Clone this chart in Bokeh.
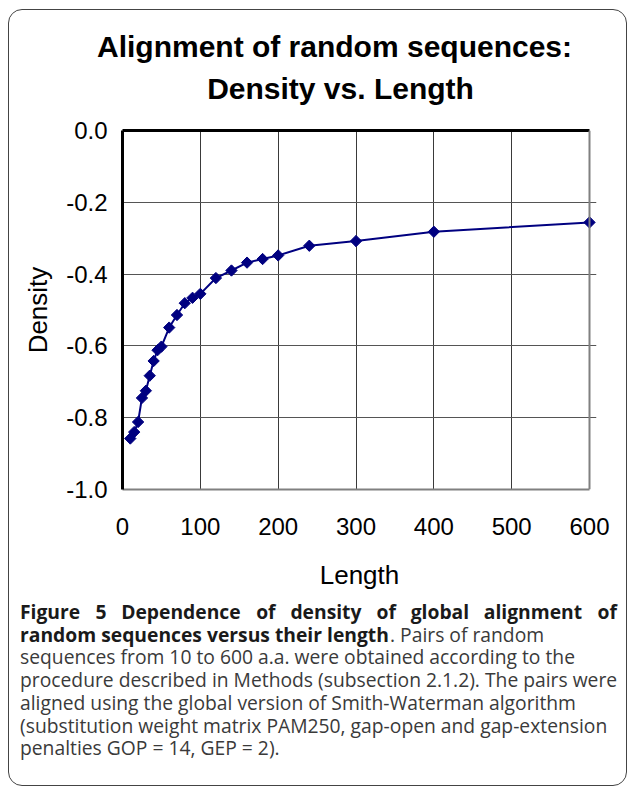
import numpy as np
from bokeh.plotting import figure
from bokeh.models import Range1d, LinearAxis, FixedTicker, Span
from bokeh.layouts import column
from bokeh.embed import file_html
from bokeh.resources import INLINE
from bokeh.core.properties import value

# ---------------- data ----------------
chart_title = ["Alignment of random sequences:", "Density vs. Length"]
lengths = [10, 15, 20, 25, 30, 35, 40, 45, 50, 60, 70, 80, 90, 100,
           120, 140, 160, 180, 200, 240, 300, 400, 600]
density = [-0.858, -0.840, -0.812, -0.745, -0.725, -0.683, -0.642, -0.612,
           -0.602, -0.549, -0.514, -0.481, -0.466, -0.455, -0.411, -0.390,
           -0.368, -0.358, -0.348, -0.321, -0.308, -0.282, -0.256]
x_ticks = [0, 100, 200, 300, 400, 500, 600]
y_ticks = [0.0, -0.2, -0.4, -0.6, -0.8, -1.0]
y_tick_labels = ["0.0", "-0.2", "-0.4", "-0.6", "-0.8", "-1.0"]
x_title = "Length"
y_title = "Density"
caption_bold_1 = "Figure 5 Dependence of density of global alignment of"
caption_bold_2 = "random sequences versus their length"
caption_rest_2 = ". Pairs of random"
caption_lines = [
    "sequences from 10 to 600 a.a. were obtained according to the",
    "procedure described in Methods (subsection 2.1.2). The pairs were",
    "aligned using the global version of Smith-Waterman algorithm",
    "(substitution weight matrix PAM250, gap-open and gap-extension",
    "penalties GOP = 14, GEP = 2).",
]

# ---------------- layout constants ----------------
W = 617
ARIAL = "Liberation Sans"
CAPF = "Open Sans"
NAVY = "#000080"
CAP_SIZE = 19.3


def blank(h):
    f = figure(width=W, height=h, x_range=Range1d(0, W), y_range=Range1d(h, 0),
               x_axis_type=None, y_axis_type=None, output_backend="svg",
               toolbar_location=None, min_border=0, title=None, frame_align=False)
    f.outline_line_color = None
    f.background_fill_color = None
    f.border_fill_color = None
    return f


# ---------------- title ----------------
TH = 100
tf = blank(TH)
tf.text(x=[325, 331], y=[36, 77.5], text=chart_title,
        text_font=value(ARIAL), text_font_size="30px", text_font_style="bold",
        text_align="center", text_baseline="alphabetic", text_color="#000000")

# ---------------- chart ----------------
frame_w = 474
plot_w = 467
x_end = x_ticks[-1] * frame_w / plot_w
CHH = 487
p = figure(width=W, height=CHH, x_range=Range1d(0, x_end),
           y_range=Range1d(y_ticks[-1], y_ticks[0]),
           output_backend="svg", toolbar_location=None, title=None, frame_align=False,
           min_border_left=113, min_border_right=W - 113 - frame_w,
           min_border_top=20, min_border_bottom=CHH - 20 - 359)
p.outline_line_color = None
p.background_fill_color = None
p.border_fill_color = None

p.xaxis.ticker = FixedTicker(ticks=x_ticks)
p.yaxis.ticker = FixedTicker(ticks=y_ticks)
p.yaxis.major_label_overrides = {t: l for t, l in zip(y_ticks, y_tick_labels)}
p.xaxis.bounds = (x_ticks[0], x_ticks[-1])

for ax in (p.xaxis, p.yaxis):
    ax.major_tick_line_color = None
    ax.minor_tick_line_color = None
    ax.major_tick_out = 0
    ax.major_tick_in = 0
    ax.minor_tick_out = 0
    ax.minor_tick_in = 0
    ax.major_label_text_font = ARIAL
    ax.major_label_text_font_size = "24px"
    ax.major_label_text_color = "#000000"
    ax.axis_label_text_font = ARIAL
    ax.axis_label_text_font_size = "26px"
    ax.axis_label_text_font_style = "normal"
    ax.axis_label_text_color = "#000000"

p.xaxis.axis_label = x_title
p.yaxis.axis_label = y_title
p.yaxis.axis_line_width = 3
p.yaxis.axis_line_color = "#000000"
p.yaxis.major_label_standoff = 15
p.yaxis.axis_label_standoff = 10
p.xaxis.axis_line_width = 2
p.xaxis.axis_line_color = "#808080"
p.xaxis.major_label_standoff = 28
p.xaxis.axis_label_standoff = 22

top = LinearAxis(ticker=FixedTicker(ticks=[]), bounds=(x_ticks[0], x_ticks[-1]),
                 axis_line_width=3, axis_line_color="#000000",
                 major_tick_line_color=None, minor_tick_line_color=None,
                 major_tick_out=0, major_tick_in=0)
p.add_layout(top, "above")
p.add_layout(Span(location=x_ticks[-1], dimension="height", line_color="#808080", line_width=2))

p.xgrid.ticker = FixedTicker(ticks=x_ticks[1:-1])
p.xgrid.grid_line_color = "#3a3a3a"
p.xgrid.grid_line_width = 1
p.ygrid.ticker = FixedTicker(ticks=y_ticks[1:-1])
p.ygrid.grid_line_color = "#555555"
p.ygrid.grid_line_width = 1

p.line(lengths, density, line_color=NAVY, line_width=2)
p.scatter(lengths, density, marker="square", angle=np.pi / 4, size=8,
          fill_color=NAVY, line_color=NAVY)

# ---------------- caption ----------------
CH = 775 - TH - CHH
cf = blank(CH)
base = 14
step = 22.7
left = 10.5
right = 607.5

# approximate Open Sans Bold advance widths (em) to justify the first line
BOLD_W = {" ": 0.26, "a": 0.604, "b": 0.635, "c": 0.522, "d": 0.635, "e": 0.596,
          "f": 0.391, "g": 0.557, "h": 0.663, "i": 0.306, "l": 0.306, "m": 1.007,
          "n": 0.663, "o": 0.623, "p": 0.635, "r": 0.455, "s": 0.506, "t": 0.427,
          "u": 0.663, "v": 0.57, "y": 0.57, "F": 0.575, "D": 0.737, "5": 0.572}
words = caption_bold_1.split(" ")
ww = [sum(BOLD_W.get(c, 0.6) for c in w) * CAP_SIZE for w in words]
gap = (right - left - sum(ww)) / (len(words) - 1)
wx = []
cur = left
for w in ww:
    wx.append(cur)
    cur += w + gap
cf.text(x=wx[:-1], y=[base] * (len(words) - 1), text=words[:-1],
        text_font=value(CAPF), text_font_size=f"{CAP_SIZE}px", text_font_style="bold",
        text_align="left", text_baseline="alphabetic", text_color="#1a1a1a")
cf.text(x=[right], y=[base], text=words[-1:],
        text_font=value(CAPF), text_font_size=f"{CAP_SIZE}px", text_font_style="bold",
        text_align="right", text_baseline="alphabetic", text_color="#1a1a1a")
cf.text(x=[left], y=[base + step], text=[caption_bold_2],
        text_font=value(CAPF), text_font_size=f"{CAP_SIZE}px", text_font_style="bold",
        text_align="left", text_baseline="alphabetic", text_color="#1a1a1a")
cf.text(x=[left + 370], y=[base + step], text=[caption_rest_2],
        text_font=value(CAPF), text_font_size=f"{CAP_SIZE}px",
        text_align="left", text_baseline="alphabetic", text_color="#3a3a3a")
cf.text(x=[left] * len(caption_lines),
        y=[base + step * (i + 2) for i in range(len(caption_lines))],
        text=caption_lines,
        text_font=value(CAPF), text_font_size=f"{CAP_SIZE}px",
        text_align="left", text_baseline="alphabetic", text_color="#3a3a3a")

layout = column(tf, p, cf, margin=(9, 0, 0, 8),
                styles={"border": "1.5px solid #444", "border-radius": "14px"})

open("out.html", "w").write(file_html(layout, INLINE))
